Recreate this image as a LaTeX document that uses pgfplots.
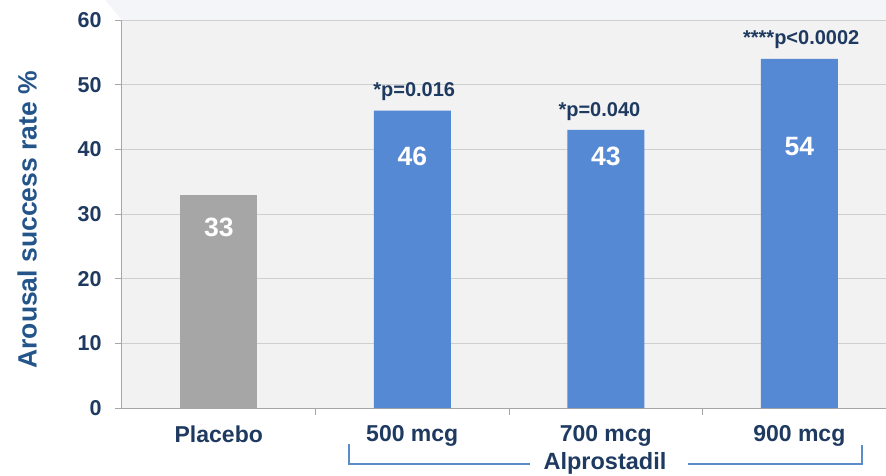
\documentclass[border=0pt]{standalone}
\usepackage{pgfplots}
\pgfplotsset{compat=1.18}
\usepackage{fontspec}
\setmainfont{Liberation Sans}
\definecolor{navy}{HTML}{1F3A60}
\definecolor{ylab}{HTML}{24558A}
\definecolor{bluebar}{HTML}{5589D4}
\definecolor{graybar}{HTML}{A6A6A6}
\definecolor{plotbg}{HTML}{F2F2F2}
\definecolor{gridc}{HTML}{CFCFCF}
\definecolor{axisc}{HTML}{A6A6A6}
\definecolor{brack}{HTML}{5B8BC8}
\definecolor{topbg}{HTML}{F4F5F8}
\begin{document}
\begin{tikzpicture}
\fill[topbg] (-17pt,408pt) -- (764pt,408pt) -- (764pt,388pt) -- (0pt,388pt) -- cycle;
\begin{axis}[
  at={(0,0)}, anchor=south west,
  scale only axis, width=764pt, height=388pt,
  xmin=-0.5, xmax=3.448, ymin=0, ymax=60,
  axis background/.style={fill=plotbg},
  axis lines*=left,
  axis line style={axisc, line width=1pt},
  ytick={0,10,...,60},
  xtick={0,1,2,3},
  xticklabels={Placebo,500 mcg,700 mcg,900 mcg},
  minor xtick={0.5,1.5,2.5},
  tick align=outside,
  major tick length=7pt, minor tick length=7pt,
  x tick style={draw=none},
  minor x tick style={draw=axisc, line width=1pt},
  y tick style={draw=axisc, line width=1pt},
  ymajorgrids, major grid style={gridc, line width=1pt},
  /pgf/number format/assume math mode=true,
  yticklabel style={font=\fontsize{21.5}{25}\selectfont\bfseries, text=navy, xshift=-10pt},
  xticklabel style={font=\fontsize{23}{27}\selectfont\bfseries, text=navy, yshift=-7pt},
  ylabel={Arousal success rate \%},
  ylabel style={font=\fontsize{26.5}{30}\selectfont\bfseries, text=ylab, at={(axis description cs:-0.1243,0.485)}, anchor=center},
  ybar, bar width=77pt,
  clip=false,
]
\addplot[fill=graybar, draw=none, bar shift=0pt] coordinates {(0,33)};
\addplot[fill=bluebar, draw=none, bar shift=0pt] coordinates {(1,46) (2,43) (3,54)};
\node[text=white, font=\fontsize{26.5}{30}\selectfont\bfseries] at (axis cs:0,27.9) {33};
\node[text=white, font=\fontsize{26.5}{30}\selectfont\bfseries] at (axis cs:1,38.9) {46};
\node[text=white, font=\fontsize{26.5}{30}\selectfont\bfseries] at (axis cs:2,38.9) {43};
\node[text=white, font=\fontsize{26.5}{30}\selectfont\bfseries] at (axis cs:3,40.5) {54};
\node[text=navy, font=\fontsize{20}{24}\selectfont\bfseries] at (axis cs:1.01,49) {*p=0.016};
\node[text=navy, font=\fontsize{20}{24}\selectfont\bfseries] at (axis cs:1.967,45.9) {*p=0.040};
\node[text=navy, font=\fontsize{20}{24}\selectfont\bfseries] at (axis cs:3.01,57) {****p<0.0002};
\end{axis}
\draw[brack, line width=1.2pt] (227pt,-36pt) -- (227pt,-56pt) -- (408pt,-56pt);
\draw[brack, line width=1.2pt] (566pt,-56pt) -- (740pt,-56pt) -- (740pt,-37pt);
\node[text=navy, font=\fontsize{23.5}{27}\selectfont\bfseries] at (483pt,-55pt) {Alprostadil};
\pgfresetboundingbox
\useasboundingbox (-122pt,-67pt) rectangle (764pt,408pt);
\end{tikzpicture}
\end{document}
